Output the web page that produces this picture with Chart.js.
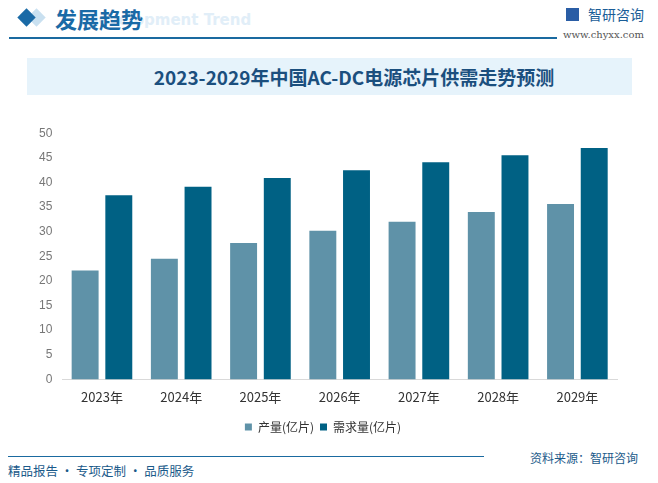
<!DOCTYPE html>
<html>
<head>
<meta charset="utf-8">
<script src="https://cdn.jsdelivr.net/npm/chart.js@4"></script>
<style>
  body { margin: 0; background: #fff; font-family: "Noto Sans CJK SC", "Noto Sans", sans-serif; }
  #page { position: relative; width: 658px; height: 483px; overflow: hidden; background: #fff; }
  .abs { position: absolute; white-space: nowrap; }
  #diamond { left: 20px; top: 11px; width: 13px; height: 13px; background: #1a6aa6; transform: rotate(45deg); }
  #diamond2 { left: 30px; top: 11px; width: 13px; height: 13px; background: #c9e0f0; transform: rotate(45deg); }
  #head { left: 55px; top: 2px; font-size: 22px; font-weight: bold; color: #1a6aa6; }
  #headEn { left: 86px; top: 11px; font-size: 15px; font-weight: bold; color: #e1eef8; font-family: "DejaVu Sans", sans-serif; }
  #headLine { left: 9px; top: 37px; width: 548px; height: 2px; background: #1a6aa0; }
  #logoIcon { left: 566px; top: 8px; width: 13px; height: 13px; background: #2a5da5; }
  #logoTxt { left: 588px; top: 4px; font-size: 14px; color: #1a5d97; }
  #logoUrl { left: 563px; top: 29px; font-size: 10px; color: #555; font-family: "DejaVu Serif", serif; }
  #band { left: 27px; top: 58px; width: 605px; height: 37px; background: #e6f3fb; }
  #title { left: 0; top: 63px; width: 658px; text-align: center; font-size: 19px; font-weight: bold; color: #1b4f7e; padding-left: 50px; box-sizing: border-box; }
  #footLine { left: 8px; top: 456px; width: 476px; height: 1px; background: #1a6aa0; }
  #src { left: 530px; top: 449px; font-size: 12px; color: #1a5a8a; }
  #slogan { left: 8px; top: 461px; font-size: 12.5px; color: #1a5a8a; }
  #chartBox { left: 21px; top: 116px; width: 625px; height: 327px; }
</style>
</head>
<body>
<div id="page">
  <div class="abs" id="diamond2"></div>
  <div class="abs" id="diamond"></div>
  <div class="abs" id="headEn">Development Trend</div>
  <div class="abs" id="head">发展趋势</div>
  <div class="abs" id="headLine"></div>
  <div class="abs" id="logoIcon"></div>
  <div class="abs" id="logoTxt">智研咨询</div>
  <div class="abs" id="logoUrl">www.chyxx.com</div>
  <div class="abs" id="band"></div>
  <div class="abs" id="title">2023-2029年中国AC-DC电源芯片供需走势预测</div>
  <div class="abs" id="chartBox"><canvas id="chart"></canvas></div>
  <div class="abs" id="footLine"></div>
  <div class="abs" id="src">资料来源：智研咨询</div>
  <div class="abs" id="slogan">精品报告 · 专项定制 · 品质服务</div>
</div>
<script>
const years = ["2023年", "2024年", "2025年", "2026年", "2027年", "2028年", "2029年"];
const supply = [22.1, 24.5, 27.7, 30.2, 32.0, 34.0, 35.6];
const demand = [37.4, 39.1, 40.9, 42.5, 44.1, 45.5, 47.0];

new Chart(document.getElementById("chart"), {
  type: "bar",
  data: {
    labels: years,
    datasets: [
      {
        label: "产量(亿片)",
        data: supply,
        backgroundColor: "#5f92a8",
        categoryPercentage: 0.85,
        barPercentage: 0.8
      },
      {
        label: "需求量(亿片)",
        data: demand,
        backgroundColor: "#006184",
        categoryPercentage: 0.85,
        barPercentage: 0.8
      }
    ]
  },
  options: {
    responsive: true,
    maintainAspectRatio: false,
    animation: false,
    layout: { padding: { top: 6, right: 29, bottom: 0, left: 8 } },
    scales: {
      x: {
        grid: { display: false, drawTicks: false },
        border: { color: "#d9d9d9" },
        ticks: { color: "#333", font: { size: 13, family: "Noto Sans CJK SC" }, padding: 10 }
      },
      y: {
        min: 0,
        max: 50,
        grid: { display: false, drawTicks: false },
        border: { display: false },
        ticks: { stepSize: 5, color: "#777", font: { size: 12, family: "Liberation Sans" }, padding: 10 }
      }
    },
    plugins: {
      legend: {
        position: "bottom",
        labels: {
          boxWidth: 7,
          boxHeight: 7,
          padding: 6,
          color: "#333",
          font: { size: 12, family: "Noto Sans CJK SC" }
        }
      },
      tooltip: { enabled: false }
    }
  }
});
</script>
</body>
</html>
